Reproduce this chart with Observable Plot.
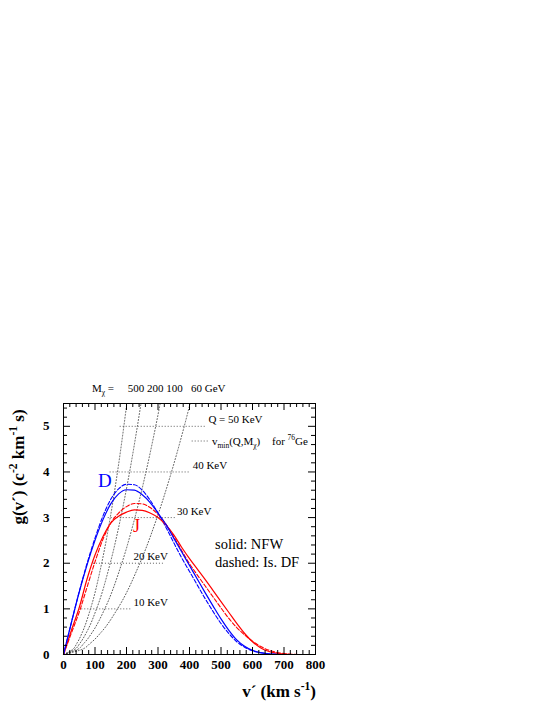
<!DOCTYPE html>
<html><head><meta charset="utf-8">
<script src="https://cdn.jsdelivr.net/npm/d3@7"></script>
<script src="https://cdn.jsdelivr.net/npm/@observablehq/plot@0.6"></script>
<style>html,body{margin:0;padding:0;background:#fff;} svg{display:block;}</style>
</head><body><div id="chart"></div>
<script>
// speed grid (km/s)
const vGrid = [0,25,50,75,100,125,150,175,200,225,250,275,300,325,350,375,400,425,450,475,500,525,550,575,600,625,650,675,700,725,750,775,800];
// g(v') values
const dNFW  = [0,0.70,1.37,1.97,2.50,2.95,3.30,3.52,3.61,3.60,3.50,3.33,3.10,2.85,2.55,2.25,1.95,1.65,1.35,1.06,0.78,0.53,0.32,0.18,0.09,0.04,0.015,0.005,0,0,0,0,0];
const dIsDF = [0,0.70,1.38,2.00,2.55,3.03,3.40,3.63,3.73,3.72,3.60,3.38,3.10,2.79,2.45,2.12,1.82,1.52,1.22,0.94,0.68,0.46,0.28,0.16,0.08,0.04,0.015,0.005,0,0,0,0,0];
const jNFW  = [0,0.53,1.03,1.66,2.18,2.58,2.88,3.03,3.12,3.17,3.16,3.10,3.00,2.84,2.62,2.35,2.10,1.87,1.64,1.40,1.16,0.92,0.68,0.46,0.28,0.15,0.07,0.03,0.01,0,0,0,0];
const jIsDF = [0,0.47,0.93,1.48,2.03,2.52,2.88,3.10,3.24,3.31,3.30,3.22,3.07,2.86,2.58,2.28,1.99,1.74,1.50,1.26,1.02,0.79,0.59,0.43,0.29,0.18,0.10,0.05,0.02,0.005,0,0,0];

// v_min(Q, M_chi) curves: Q/10 keV levels and crossing speeds
const qLevels = [0,0.1,0.25,0.5,1,2,3,4,5,5.5];
const vmin500 = [0,27.1,42.9,60.6,85.7,121.2,148.4,171.4,191.6,201];
const vmin200 = [0,33.2,52.4,74.2,104.9,148.3,181.7,209.8,234.5,246];
const vmin100 = [0,41.4,65.4,92.6,130.9,185.1,226.7,261.8,292.7,307];
const vmin60  = [0,54.2,85.7,121.2,171.4,242.4,296.9,342.8,383.3,402];
const massLabels = "500 200 100   60 GeV";

// horizontal Q guides
const qValues = [1,2,3,4,5];
const qLabels = ["10 KeV","20 KeV","30 KeV","40 KeV","Q = 50 KeV"];
const qFrom   = [58,95,142,148,180];
const qTo     = [217,317,358,405,455];
const qLabelV = [222,222,360,410,460];

const xMajor = [0,100,200,300,400,500,600,700,800];
const yMajor = [0,1,2,3,4,5];
const xMinor = d3.range(0,801,20).filter(d => d % 100 !== 0);
const yMinor = d3.range(0,5.5,0.2).map(d => +d.toFixed(1)).filter(d => Math.abs(d - Math.round(d)) > 1e-6);

const rows = (xs, ys) => xs.map((x,i) => ({v:x, g:ys[i]}));
const qRows = qValues.map((g,i) => ({g, label:qLabels[i], x1:qFrom[i], x2:qTo[i], lx:qLabelV[i]}));

const PW = 545-63-230, PH = 705-403-51;
const dotted = {stroke:"#333", strokeWidth:0.8, strokeDasharray:"1,2"};

const chart = Plot.plot({
  width:545, height:705,
  marginLeft:63, marginRight:230, marginTop:403, marginBottom:51,
  style:{fontFamily:"Liberation Serif", background:"white", color:"black"},
  x:{domain:[0,800], axis:null},
  y:{domain:[0,5.5], axis:null},
  marks:[
    ...[vmin500,vmin200,vmin100,vmin60].map(vs => Plot.line(rows(vs,qLevels), {x:"v", y:"g", curve:"monotone-y", ...dotted})),
    Plot.ruleY(qRows, {y:"g", x1:"x1", x2:"x2", ...dotted}),
    Plot.text(qRows, {x:"lx", y:"g", text:"label", textAnchor:"start", lineAnchor:"bottom", dy:-3, fontSize:11, fill:"black"}),
    Plot.line(rows(vGrid,jIsDF), {x:"v", y:"g", stroke:"#ff0000", strokeWidth:1.1, strokeDasharray:"4,2", curve:"monotone-x"}),
    Plot.line(rows(vGrid,dIsDF), {x:"v", y:"g", stroke:"#0000ff", strokeWidth:1.1, strokeDasharray:"4,2", curve:"monotone-x"}),
    Plot.line(rows(vGrid,jNFW), {x:"v", y:"g", stroke:"#ff0000", strokeWidth:1.2, curve:"monotone-x"}),
    Plot.line(rows(vGrid,dNFW), {x:"v", y:"g", stroke:"#0000ff", strokeWidth:1.2, curve:"monotone-x"}),
    Plot.frame({stroke:"black", strokeWidth:1}),
    Plot.tickY(yMajor, {y:d=>d, insetRight:PW-7, stroke:"black"}),
    Plot.tickY(yMajor, {y:d=>d, insetLeft:PW-7, stroke:"black"}),
    Plot.tickY(yMinor, {y:d=>d, insetRight:PW-4, stroke:"black"}),
    Plot.tickY(yMinor, {y:d=>d, insetLeft:PW-4, stroke:"black"}),
    Plot.tickX(xMajor, {x:d=>d, insetTop:PH-7, stroke:"black"}),
    Plot.tickX(xMajor, {x:d=>d, insetBottom:PH-7, stroke:"black"}),
    Plot.tickX(xMinor, {x:d=>d, insetTop:PH-4, stroke:"black"}),
    Plot.tickX(xMinor, {x:d=>d, insetBottom:PH-4, stroke:"black"}),
    Plot.text(xMajor, {x:d=>d, text:d=>String(d), frameAnchor:"bottom", dy:14, fontWeight:"bold", fontSize:13, fill:"black"}),
    Plot.text(yMajor, {y:d=>d, text:d=>String(d), frameAnchor:"left", dx:-14, textAnchor:"end", fontWeight:"bold", fontSize:13, fill:"black"})
  ]
});
document.getElementById("chart").appendChild(chart);

const svg = d3.select(chart);
const serif = "Liberation Serif";
function rich(x, y, parts, attrs) {
  const t = svg.append("text").attr("x", x).attr("y", y).style("white-space","pre")
    .attr("fill","black").attr("text-anchor","start").attr("font-family", serif);
  for (const [k,v] of Object.entries(attrs)) t.attr(k, v);
  const fs = +attrs["font-size"];
  let shift = 0;
  for (const p of parts) {
    const s = p.s || 0;
    const target = s === 1 ? -fs*0.42 : s === -1 ? fs*0.28 : 0;
    const ts = t.append("tspan").attr("font-size", s ? fs*0.68 : fs).attr("dy", target - shift).text(p.t);
    if (p.x != null) ts.attr("x", p.x);
    shift = target;
  }
  return t;
}
function plain(x, y, str, size, color) {
  return svg.append("text").attr("x", x).attr("y", y).attr("text-anchor","start")
    .attr("font-family", serif).attr("font-size", size).attr("fill", color).text(str);
}
// axis titles
rich(0, 0, [{t:"g(v´) (c"},{t:"-2",s:1},{t:" km"},{t:"-1",s:1},{t:" s)"}],
  {"font-size":17, "font-weight":"bold", "text-anchor":"middle", transform:"translate(24,467) rotate(-90)"});
rich(316, 697, [{t:"v´ (km s"},{t:"-1",s:1},{t:")"}],
  {"font-size":17, "font-weight":"bold", "text-anchor":"end"});
// mass labels on top
rich(92, 392, [{t:"M"},{t:"χ",s:-1},{t:" ="},{t:massLabels,x:127.7}],
  {"font-size":11});
// v_min legend
svg.append("line").attr("x1",191.7).attr("x2",208.3).attr("y1",441).attr("y2",441)
  .attr("stroke","#333").attr("stroke-width",0.8).attr("stroke-dasharray","1,2");
rich(212, 445, [{t:"v"},{t:"min",s:-1},{t:"(Q,M"},{t:"χ",s:-1},{t:")"},{t:"for ",x:272},{t:"76",s:1},{t:"Ge"}],
  {"font-size":11});
// profile labels
plain(98, 487, "D", 19, "#0000ff");
plain(133, 532, "J", 18, "#ff0000");
plain(215, 549, "solid: NFW", 14.5, "black");
plain(215, 567, "dashed: Is. DF", 14.5, "black");
</script>
</body></html>
